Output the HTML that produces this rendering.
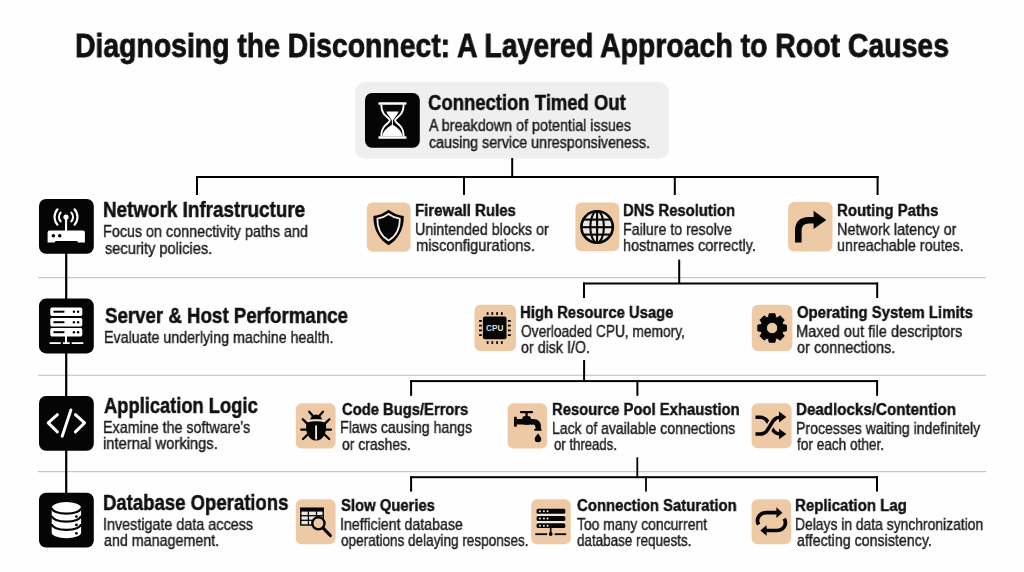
<!DOCTYPE html>
<html><head><meta charset="utf-8"><title>Diagnosing the Disconnect</title>
<style>
html,body{margin:0;padding:0}
body{width:1024px;height:572px;background:#fefefe;position:relative;overflow:hidden;font-family:"Liberation Sans",sans-serif}
svg.bg{position:absolute;left:0;top:0}
.t{position:absolute;white-space:nowrap;transform-origin:0 0;line-height:1;will-change:transform}
.title{font-size:33px;font-weight:bold;color:#111;-webkit-text-stroke:0.8px #111}
.mh{font-size:21.3px;font-weight:bold;color:#111;-webkit-text-stroke:0.5px #111}
.lh{font-size:21.6px;font-weight:bold;color:#111;-webkit-text-stroke:0.5px #111}
.sh{font-size:17.2px;font-weight:bold;color:#111;-webkit-text-stroke:0.45px #111}
.d{font-size:16.2px;font-weight:normal;color:#1c1c1c;-webkit-text-stroke:0.4px #1c1c1c}
.md{font-size:15.6px;font-weight:normal;color:#1c1c1c;-webkit-text-stroke:0.4px #1c1c1c}
</style></head><body>
<svg class="bg" width="1024" height="572" viewBox="0 0 1024 572">
<!-- main box -->
<rect x="355" y="82" width="314" height="76.5" rx="10" fill="#efefef"/>
<!-- separators -->
<g fill="#c6c6c6">
<rect x="38" y="277" width="948" height="1.2"/>
<rect x="38" y="374.7" width="948" height="1.2"/>
<rect x="38" y="471" width="948" height="1.2"/>
</g>
<!-- connectors -->
<g fill="#000">
<rect x="511.2" y="158" width="2" height="19"/>
<rect x="196" y="176" width="682.6" height="2"/>
<rect x="196" y="176" width="2" height="19"/>
<rect x="463" y="176" width="2" height="19"/>
<rect x="673.8" y="176" width="2" height="19"/>
<rect x="876.6" y="176" width="2" height="19"/>

<rect x="678.2" y="259.6" width="2" height="24"/>
<rect x="583" y="282.5" width="295" height="2"/>
<rect x="583" y="282.5" width="2" height="15.5"/>
<rect x="876.2" y="282.5" width="2" height="15.5"/>

<rect x="583.1" y="360" width="2" height="21"/>
<rect x="410.1" y="380.1" width="468" height="2"/>
<rect x="410.1" y="380.1" width="2" height="15.7"/>
<rect x="636.4" y="380.1" width="2" height="15.7"/>
<rect x="876.1" y="380.1" width="2" height="15.7"/>

<rect x="636.4" y="457.3" width="1.8" height="20"/>
<rect x="410.1" y="476.2" width="468" height="2"/>
<rect x="410.1" y="476.2" width="2" height="15.4"/>
<rect x="645.1" y="476.2" width="1.8" height="15.4"/>
<rect x="876" y="476.2" width="2" height="15.4"/>

<rect x="65.1" y="250" width="2.2" height="246"/>
</g>
<!-- black icon boxes -->
<g fill="#050505">
<rect x="365" y="93" width="54.8" height="54.8" rx="7"/>
<rect x="39" y="199" width="54.8" height="54.8" rx="7"/>
<rect x="39" y="298.6" width="54.8" height="54.8" rx="7"/>
<rect x="39" y="396" width="54.8" height="54.8" rx="7"/>
<rect x="39" y="492.7" width="54.8" height="54.8" rx="7"/>
</g>
<!-- tan boxes -->
<g fill="#edcaa5">
<rect x="366.8" y="202.4" width="43.8" height="49.4" rx="6"/>
<rect x="575.4" y="202.4" width="43.9" height="48.8" rx="6"/>
<rect x="788.1" y="202" width="44.4" height="49.5" rx="6"/>
<rect x="474.4" y="304.8" width="41.6" height="46.3" rx="6"/>
<rect x="751.8" y="304.8" width="40.6" height="46.3" rx="6"/>
<rect x="295.8" y="403.2" width="39.8" height="45.2" rx="6"/>
<rect x="507.6" y="403.2" width="39.6" height="45.4" rx="6"/>
<rect x="751.6" y="403.2" width="40" height="45.1" rx="6"/>
<rect x="295.8" y="499.2" width="39.8" height="45" rx="6"/>
<rect x="531.2" y="499.2" width="39.5" height="45" rx="6"/>
<rect x="751.6" y="499.2" width="39.6" height="45" rx="6"/>
</g>

<!-- hourglass -->
<g fill="#fff">
<rect x="378.3" y="102.3" width="28.3" height="2.5" rx="1"/>
<rect x="378.3" y="136.2" width="28.3" height="2.5" rx="1"/>
<path d="M386.3,111.6 L398.6,111.6 C397.5,115 394.5,117.5 393,120.4 L391.9,120.4 C390.4,117.5 387.4,115 386.3,111.6 Z"/>
<path d="M392.4,124.6 C396,127 401.5,130 402.5,136.3 L382.3,136.3 C383.3,130 388.8,127 392.4,124.6 Z"/>
</g>
<g fill="none" stroke="#fff" stroke-width="1.9">
<path d="M381.3,104.6 C381.3,109.5 382.3,112.5 385,115.2 C387.8,118 389.8,119 389.8,120.4 C389.8,121.8 387.6,123 384.8,125.8 C382.2,128.4 381.3,131.5 381.3,136.4"/>
<path d="M403.6,104.6 C403.6,109.5 402.6,112.5 399.9,115.2 C397.1,118 395.1,119 395.1,120.4 C395.1,121.8 397.3,123 400.1,125.8 C402.7,128.4 403.6,131.5 403.6,136.4"/>
<path d="M392.4,120 L392.4,126" stroke-width="1"/>
</g>

<!-- router -->
<g>
<path d="M49.6,230.5 L82.9,230.5 Q84.9,230.5 84.9,232.5 L84.9,242.6 L78,242.6 L77,241 L55.5,241 L54.5,242.6 L47.6,242.6 L47.6,232.5 Q47.6,230.5 49.6,230.5 Z" fill="#fff"/>
<circle cx="53.4" cy="235.8" r="1.8" fill="#050505"/>
<circle cx="59.7" cy="235.8" r="1.8" fill="#050505"/>
<rect x="65" y="217" width="2.1" height="14" fill="#fff"/>
<circle cx="66" cy="217" r="2.6" fill="#fff"/>
<g fill="none" stroke="#fff" stroke-width="2.1" stroke-linecap="round">
<path d="M60.6,212.6 A7,7 0 0 0 60.6,221.4"/>
<path d="M71.4,212.6 A7,7 0 0 1 71.4,221.4"/>
<path d="M57.5,209.3 A11.5,11.5 0 0 0 57.5,224.7"/>
<path d="M74.5,209.3 A11.5,11.5 0 0 1 74.5,224.7"/>
</g>
</g>

<!-- server (left) -->
<g fill="#fff">
<rect x="50.3" y="307.5" width="32" height="8.4" rx="1.6"/>
<rect x="50.3" y="318" width="32" height="8.4" rx="1.6"/>
<rect x="50.3" y="328" width="32" height="8.4" rx="1.6"/>
<rect x="65" y="336" width="2" height="7"/>
<rect x="49.7" y="342.2" width="11.1" height="1.8"/>
<rect x="62.9" y="342.2" width="6.8" height="1.8"/>
<rect x="71.7" y="342.2" width="11.6" height="1.8"/>
</g>
<g fill="#050505">
<rect x="53.4" y="310.7" width="11" height="2"/>
<rect x="53.4" y="321.2" width="11" height="2"/>
<rect x="53.4" y="331.2" width="11" height="2"/>
<circle cx="73.9" cy="311.7" r="1.2"/><circle cx="78.1" cy="311.7" r="1.2"/>
<circle cx="73.9" cy="322.2" r="1.2"/><circle cx="78.1" cy="322.2" r="1.2"/>
<circle cx="73.9" cy="332.2" r="1.2"/><circle cx="78.1" cy="332.2" r="1.2"/>
</g>

<!-- code -->
<g fill="none" stroke="#fff" stroke-width="2.9" stroke-linecap="round" stroke-linejoin="round">
<polyline points="57.4,414.6 48.2,422.9 57.4,431.9"/>
<polyline points="75.4,414.6 84.6,422.9 75.4,431.9"/>
<line x1="70.9" y1="410" x2="62.2" y2="436.2"/>
</g>

<!-- database -->
<g>
<path d="M51.7,507.8 A14.7,5.8 0 0 1 81.1,507.8 L81.1,532.5 A14.7,5.8 0 0 1 51.7,532.5 Z" fill="#fff"/>
<g fill="none" stroke="#050505" stroke-width="2.2">
<path d="M51.7,507.8 A14.7,5.8 0 0 0 81.1,507.8"/>
<path d="M51.7,515.8 A14.7,5.8 0 0 0 81.1,515.8"/>
<path d="M51.7,524.1 A14.7,5.8 0 0 0 81.1,524.1"/>
</g>
<g fill="#050505">
<circle cx="76.4" cy="516.6" r="1.4"/>
<circle cx="76.4" cy="524.9" r="1.4"/>
<circle cx="76.4" cy="533.3" r="1.4"/>
</g>
</g>

<!-- shield -->
<path d="M388.6,209.8 C393,213.2 398.5,215.4 403.8,215.9 C404.2,229.5 397.5,240 388.6,245.2 C379.7,240 373,229.5 373.4,215.9 C378.7,215.4 384.2,213.2 388.6,209.8 Z" fill="#050505"/>
<path d="M388.6,214 C392,216.5 396,218.2 399.8,218.7 C400,229 395.3,236.5 388.6,240.6 C381.9,236.5 377.2,229 377.4,218.7 C381.2,218.2 385.2,216.5 388.6,214 Z" fill="none" stroke="#f3ece4" stroke-width="1.7"/>

<!-- globe -->
<g>
<circle cx="597.1" cy="226.9" r="15.7" fill="#ece6df" stroke="#050505" stroke-width="2.6"/>
<g fill="none" stroke="#050505" stroke-width="2.1">
<line x1="597.1" y1="211.2" x2="597.1" y2="242.6"/>
<ellipse cx="597.1" cy="226.9" rx="6.8" ry="15.7"/>
<line x1="583" y1="219.6" x2="611.2" y2="219.6"/>
<line x1="581.4" y1="227.2" x2="612.8" y2="227.2"/>
<line x1="583" y1="234.6" x2="611.2" y2="234.6"/>
</g>
</g>

<!-- routing arrow -->
<g fill="#050505">
<path d="M798.3,242.6 L798.3,231 Q798.3,220.3 809,220.3 L815,220.3" fill="none" stroke="#050505" stroke-width="6.6"/>
<polygon points="813.6,210.8 826.3,219.9 813.6,228.9"/>
</g>

<!-- CPU -->
<g fill="#050505">
<rect x="482.9" y="316.6" width="23.6" height="22.7" rx="2"/>
<rect x="486.7" y="312.2" width="1.8" height="2.7"/><rect x="491.4" y="312.2" width="1.8" height="2.7"/><rect x="496.2" y="312.2" width="1.8" height="2.7"/><rect x="500.9" y="312.2" width="1.8" height="2.7"/>
<rect x="486.7" y="341.2" width="1.8" height="2.7"/><rect x="491.4" y="341.2" width="1.8" height="2.7"/><rect x="496.2" y="341.2" width="1.8" height="2.7"/><rect x="500.9" y="341.2" width="1.8" height="2.7"/>
<rect x="479" y="320" width="2.9" height="1.8"/><rect x="479" y="324.7" width="2.9" height="1.8"/><rect x="479" y="329.5" width="2.9" height="1.8"/><rect x="479" y="334.2" width="2.9" height="1.8"/>
<rect x="507.9" y="320" width="2.9" height="1.8"/><rect x="507.9" y="324.7" width="2.9" height="1.8"/><rect x="507.9" y="329.5" width="2.9" height="1.8"/><rect x="507.9" y="334.2" width="2.9" height="1.8"/>
</g>
<text x="494.7" y="331.1" text-anchor="middle" font-family="Liberation Sans" font-weight="bold" font-size="9.6" fill="#dedad2" transform="translate(494.7 0) scale(0.86 1) translate(-494.7 0)">CPU</text>

<!-- gear -->
<path fill-rule="evenodd" fill="#050505" stroke="#050505" stroke-width="0.9" stroke-linejoin="round" d="M768.50,317.18 L769.20,313.69 L775.00,313.69 L775.70,317.18 A11.40,11.40 0 0 1 777.20,317.81 L780.17,315.83 L784.27,319.93 L782.29,322.90 A11.40,11.40 0 0 1 782.92,324.40 L786.41,325.10 L786.41,330.90 L782.92,331.60 A11.40,11.40 0 0 1 782.29,333.10 L784.27,336.07 L780.17,340.17 L777.20,338.19 A11.40,11.40 0 0 1 775.70,338.82 L775.00,342.31 L769.20,342.31 L768.50,338.82 A11.40,11.40 0 0 1 767.00,338.19 L764.03,340.17 L759.93,336.07 L761.91,333.10 A11.40,11.40 0 0 1 761.28,331.60 L757.79,330.90 L757.79,325.10 L761.28,324.40 A11.40,11.40 0 0 1 761.91,322.90 L759.93,319.93 L764.03,315.83 L767.00,317.81 A11.40,11.40 0 0 1 768.50,317.18 Z M777.75,328 A5.65,5.65 0 1 0 766.45,328 A5.65,5.65 0 1 0 777.75,328 Z"/>

<!-- bug -->
<g fill="#050505">
<path d="M310.2,419.8 A5.9,5.2 0 0 1 322,419.8 Z"/>
<path d="M306.6,422.4 Q316.1,420 325.6,422.4 C327.6,431 324,440.3 316.1,440.6 C308.2,440.3 304.6,431 306.6,422.4 Z"/>
</g>
<g fill="none" stroke="#050505" stroke-width="2.3" stroke-linecap="round">
<line x1="312.6" y1="415.6" x2="309.2" y2="411.8"/><line x1="319.6" y1="415.6" x2="323" y2="411.8"/>
<line x1="307" y1="423.4" x2="302.8" y2="419.2"/><line x1="325.2" y1="423.4" x2="329.4" y2="419.2"/>
<line x1="306.4" y1="429.6" x2="301.2" y2="429.6"/><line x1="325.8" y1="429.6" x2="331" y2="429.6"/>
<line x1="307.6" y1="434.6" x2="303" y2="439"/><line x1="324.6" y1="434.6" x2="329.2" y2="439"/>
</g>
<rect x="315.2" y="425.4" width="1.8" height="14" fill="#f3ece4"/>
<path d="M307.5,421.2 Q316.1,418.6 324.7,421.2" fill="none" stroke="#f3ece4" stroke-width="1.1"/>

<!-- faucet -->
<g fill="#050505">
<rect x="519.9" y="410.9" width="13.2" height="2.4" rx="1.2"/>
<rect x="525.4" y="412.5" width="2.3" height="5"/>
<rect x="522.2" y="416" width="8.8" height="8.8" rx="3"/>
<rect x="514" y="416.8" width="2.8" height="10" rx="0.8"/>
<rect x="516.5" y="419" width="16" height="5.5"/>
<path d="M531,421.75 L533.3,421.75 Q538.2,421.75 538.2,427 L538.2,429.5" fill="none" stroke="#050505" stroke-width="5.5"/>
<rect x="534.2" y="428.9" width="7.4" height="1.9" rx="0.6"/>
<path d="M538,433.6 C539.3,435.2 541.3,437.6 541.3,439 A3.3,3.3 0 0 1 534.7,439 C534.7,437.6 536.7,435.2 538,433.6 Z"/>
</g>

<!-- shuffle -->
<g fill="none" stroke-width="3.6">
<path d="M755.5,417.3 L760.3,417.3 C765.5,417.3 767.5,421 770.3,425.8 C772.8,430 774.5,433.8 779.5,433.8 L781,433.8" stroke="#050505"/>
<path d="M755.5,434 L760.3,434 C765.5,434 767.5,430.3 770.3,425.5 C772.8,421.3 774.5,417.2 779.5,417.2 L781,417.2" stroke="#edcaa5" stroke-width="7.2"/>
<path d="M755.5,434 L760.3,434 C765.5,434 767.5,430.3 770.3,425.5 C772.8,421.3 774.5,417.2 779.5,417.2 L781,417.2" stroke="#050505"/>
</g>
<g fill="#050505">
<polygon points="779,411.6 786.4,417 779,422.4"/>
<polygon points="779,428.7 786.4,434 779,439.3"/>
</g>

<!-- table + magnifier -->
<g>
<rect x="300.8" y="508.4" width="22.4" height="16.6" fill="#efe9e2" stroke="#050505" stroke-width="1.4"/>
<rect x="300.1" y="507.7" width="23.8" height="3.9" fill="#050505"/>
<g stroke="#050505" stroke-width="1.3">
<line x1="308.4" y1="511" x2="308.4" y2="525.5"/>
<line x1="316.5" y1="511" x2="316.5" y2="525.5"/>
<line x1="300.1" y1="515.7" x2="323.9" y2="515.7"/>
<line x1="300.1" y1="520.3" x2="323.9" y2="520.3"/>
</g>
<circle cx="318.4" cy="523.3" r="6.1" fill="#edcaa5" stroke="#050505" stroke-width="2.4"/>
<line x1="323.2" y1="528.2" x2="330.3" y2="535.5" stroke="#050505" stroke-width="3.2" stroke-linecap="round"/>
</g>

<!-- server rack -->
<rect x="537" y="512" width="28" height="13" fill="#f1e8dc"/>
<g fill="#050505">
<rect x="536.6" y="508.7" width="28.7" height="5" rx="1.5"/>
<rect x="536.6" y="516.1" width="28.7" height="4.8" rx="1.5"/>
<rect x="536.6" y="523.3" width="28.7" height="4.8" rx="1.5"/>
<rect x="549.9" y="527.5" width="1.6" height="6"/>
<circle cx="550.7" cy="534" r="1.9"/>
<rect x="535.3" y="533.3" width="11.8" height="1.8"/>
<rect x="554.6" y="533.3" width="11.6" height="1.8"/>
</g>
<g fill="#f3ece4">
<circle cx="539.9" cy="511.2" r="0.95"/><circle cx="543.9" cy="511.2" r="0.95"/><circle cx="547.6" cy="511.2" r="0.95"/>
<circle cx="539.9" cy="518.5" r="0.95"/><circle cx="543.9" cy="518.5" r="0.95"/><circle cx="547.6" cy="518.5" r="0.95"/>
<circle cx="539.9" cy="525.7" r="0.95"/><circle cx="543.9" cy="525.7" r="0.95"/><circle cx="547.6" cy="525.7" r="0.95"/>
</g>

<!-- refresh -->
<g fill="none" stroke="#050505" stroke-width="3.7">
<path d="M758.6,524.6 C755.5,519 759.5,512.6 766.5,512.6 L777.5,512.6"/>
<path d="M784.3,518.6 C787.5,524.5 783.5,530.5 776.5,530.5 L765.8,530.5"/>
</g>
<g fill="#050505">
<polygon points="776.4,507.3 782.4,512.7 776.4,518"/>
<polygon points="766.6,525.3 760.3,530.5 766.6,535.7"/>
</g>
</svg>
<div class="t title" style="left:74.68px;top:28.75px;transform:scaleX(0.8598)">Diagnosing the Disconnect:</div>
<div class="t title" style="left:456.69px;top:28.75px;transform:scaleX(0.8608)">A Layered Approach to Root Causes</div>
<div class="t mh" style="left:427.60px;top:93.29px;transform:scaleX(0.8677)">Connection Timed Out</div>
<div class="t md" style="left:428.60px;top:117.74px;transform:scaleX(0.9212)">A breakdown of potential issues</div>
<div class="t md" style="left:428.60px;top:135.04px;transform:scaleX(0.9139)">causing service unresponsiveness.</div>
<div class="t lh" style="left:103.23px;top:198.74px;transform:scaleX(0.8730)">Network Infrastructure</div>
<div class="t d" style="left:103.21px;top:222.83px;transform:scaleX(0.8859)">Focus on connectivity paths and</div>
<div class="t d" style="left:105.10px;top:239.63px;transform:scaleX(0.9023)">security policies.</div>
<div class="t lh" style="left:104.80px;top:304.84px;transform:scaleX(0.8653)">Server &amp; Host Performance</div>
<div class="t d" style="left:103.92px;top:328.73px;transform:scaleX(0.8791)">Evaluate underlying machine health.</div>
<div class="t lh" style="left:103.90px;top:394.74px;transform:scaleX(0.8484)">Application Logic</div>
<div class="t d" style="left:103.02px;top:419.23px;transform:scaleX(0.8827)">Examine the software's</div>
<div class="t d" style="left:102.99px;top:434.83px;transform:scaleX(0.9120)">internal workings.</div>
<div class="t lh" style="left:103.04px;top:491.64px;transform:scaleX(0.8585)">Database Operations</div>
<div class="t d" style="left:103.01px;top:515.73px;transform:scaleX(0.8865)">Investigate data access</div>
<div class="t d" style="left:103.90px;top:531.73px;transform:scaleX(0.8824)">and management.</div>
<div class="t sh" style="left:414.74px;top:202.38px;transform:scaleX(0.8727)">Firewall Rules</div>
<div class="t d" style="left:414.72px;top:221.23px;transform:scaleX(0.8795)">Unintended blocks or</div>
<div class="t d" style="left:415.68px;top:237.23px;transform:scaleX(0.9120)">misconfigurations.</div>
<div class="t sh" style="left:623.24px;top:202.28px;transform:scaleX(0.8639)">DNS Resolution</div>
<div class="t d" style="left:623.23px;top:221.23px;transform:scaleX(0.8761)">Failure to resolve</div>
<div class="t d" style="left:623.20px;top:237.23px;transform:scaleX(0.8967)">hostnames correctly.</div>
<div class="t sh" style="left:836.53px;top:202.28px;transform:scaleX(0.8701)">Routing Paths</div>
<div class="t d" style="left:836.51px;top:221.23px;transform:scaleX(0.8904)">Network latency or</div>
<div class="t d" style="left:836.51px;top:237.23px;transform:scaleX(0.8857)">unreachable routes.</div>
<div class="t sh" style="left:519.63px;top:303.98px;transform:scaleX(0.8643)">High Resource Usage</div>
<div class="t d" style="left:520.50px;top:323.23px;transform:scaleX(0.8489)">Overloaded CPU, memory,</div>
<div class="t d" style="left:520.50px;top:339.23px;transform:scaleX(0.8810)">or disk I/O.</div>
<div class="t sh" style="left:797.20px;top:303.78px;transform:scaleX(0.8686)">Operating System Limits</div>
<div class="t d" style="left:796.29px;top:322.73px;transform:scaleX(0.9021)">Maxed out file descriptors</div>
<div class="t d" style="left:797.20px;top:339.23px;transform:scaleX(0.8949)">or connections.</div>
<div class="t sh" style="left:341.60px;top:401.38px;transform:scaleX(0.8586)">Code Bugs/Errors</div>
<div class="t d" style="left:339.73px;top:419.23px;transform:scaleX(0.8743)">Flaws causing hangs</div>
<div class="t d" style="left:341.60px;top:435.93px;transform:scaleX(0.8598)">or crashes.</div>
<div class="t sh" style="left:551.74px;top:401.28px;transform:scaleX(0.8615)">Resource Pool Exhaustion</div>
<div class="t d" style="left:551.74px;top:420.23px;transform:scaleX(0.8656)">Lack of available connections</div>
<div class="t d" style="left:553.60px;top:436.23px;transform:scaleX(0.8131)">or threads.</div>
<div class="t sh" style="left:795.92px;top:401.28px;transform:scaleX(0.8814)">Deadlocks/Contention</div>
<div class="t d" style="left:795.94px;top:420.23px;transform:scaleX(0.8711)">Processes waiting indefinitely</div>
<div class="t d" style="left:796.80px;top:436.23px;transform:scaleX(0.8409)">for each other.</div>
<div class="t sh" style="left:340.90px;top:497.48px;transform:scaleX(0.8631)">Slow Queries</div>
<div class="t d" style="left:340.02px;top:516.03px;transform:scaleX(0.8771)">Inefficient database</div>
<div class="t d" style="left:340.90px;top:531.93px;transform:scaleX(0.8369)">operations delaying responses.</div>
<div class="t sh" style="left:576.60px;top:497.28px;transform:scaleX(0.8667)">Connection Saturation</div>
<div class="t d" style="left:576.60px;top:516.03px;transform:scaleX(0.8599)">Too many concurrent</div>
<div class="t d" style="left:576.60px;top:531.93px;transform:scaleX(0.8310)">database requests.</div>
<div class="t sh" style="left:794.74px;top:497.28px;transform:scaleX(0.8737)">Replication Lag</div>
<div class="t d" style="left:794.74px;top:516.03px;transform:scaleX(0.8569)">Delays in data synchronization</div>
<div class="t d" style="left:796.60px;top:531.93px;transform:scaleX(0.8798)">affecting consistency.</div>
</body></html>
